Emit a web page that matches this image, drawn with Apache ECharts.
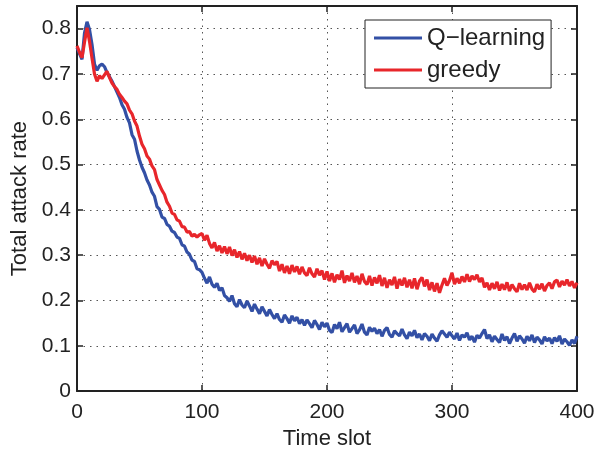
<!DOCTYPE html>
<html>
<head>
<meta charset="utf-8">
<script src="https://cdn.jsdelivr.net/npm/echarts@6/dist/echarts.min.js"></script>
<style>
  html, body { margin: 0; padding: 0; background: #fff; }
  #chart { width: 607px; height: 455px; }
</style>
</head>
<body>
<div id="chart"></div>
<script>
// sampled every 2 time slots, t = 0 .. 400
const timeStep = 2;
const xTicks = [0, 100, 200, 300, 400];
const seriesNames = ['Q\u2212learning', 'greedy'];

// Q-learning total attack rate
const qLearning = [
  0.758, 0.745, 0.732, 0.790, 0.815, 0.798, 0.765, 0.722, 0.708, 0.718,
  0.722, 0.716, 0.703, 0.694, 0.684, 0.672, 0.660, 0.648, 0.632, 0.622,
  0.604, 0.592, 0.566, 0.556, 0.530, 0.510, 0.494, 0.482, 0.466, 0.455,
  0.439, 0.430, 0.407, 0.401, 0.384, 0.381, 0.368, 0.364, 0.353, 0.350,
  0.340, 0.337, 0.323, 0.320, 0.307, 0.302, 0.289, 0.286, 0.270, 0.268,
  0.262, 0.249, 0.238, 0.252, 0.236, 0.229, 0.238, 0.222, 0.228, 0.211,
  0.206, 0.198, 0.211, 0.193, 0.186, 0.202, 0.190, 0.184, 0.199, 0.188,
  0.176, 0.192, 0.181, 0.171, 0.186, 0.176, 0.166, 0.180, 0.169, 0.160,
  0.171, 0.158, 0.152, 0.168, 0.160, 0.150, 0.166, 0.155, 0.163, 0.149,
  0.158, 0.145, 0.157, 0.149, 0.140, 0.156, 0.147, 0.136, 0.152, 0.142,
  0.150, 0.134, 0.129, 0.147, 0.138, 0.152, 0.131, 0.140, 0.149, 0.130,
  0.138, 0.146, 0.127, 0.135, 0.148, 0.130, 0.124, 0.141, 0.132, 0.139,
  0.127, 0.136, 0.121, 0.134, 0.140, 0.125, 0.119, 0.133, 0.127, 0.122,
  0.137, 0.124, 0.116, 0.130, 0.122, 0.134, 0.118, 0.126, 0.113, 0.127,
  0.121, 0.111, 0.126, 0.117, 0.110, 0.124, 0.133, 0.126, 0.119, 0.130,
  0.122, 0.115, 0.128, 0.112, 0.124, 0.119, 0.129, 0.113, 0.121, 0.108,
  0.123, 0.117, 0.127, 0.136, 0.116, 0.124, 0.109, 0.121, 0.114, 0.107,
  0.126, 0.112, 0.120, 0.105, 0.117, 0.127, 0.110, 0.122, 0.115, 0.106,
  0.121, 0.111, 0.124, 0.107, 0.119, 0.113, 0.104, 0.120, 0.111, 0.117,
  0.105, 0.118, 0.110, 0.122, 0.104, 0.115, 0.109, 0.101, 0.113, 0.105,
  0.121
];

// greedy total attack rate
const greedy = [
  0.762, 0.748, 0.736, 0.770, 0.802, 0.772, 0.735, 0.700, 0.684, 0.696,
  0.690, 0.698, 0.706, 0.692, 0.680, 0.672, 0.666, 0.655, 0.648, 0.640,
  0.634, 0.620, 0.612, 0.596, 0.585, 0.563, 0.545, 0.535, 0.519, 0.512,
  0.497, 0.489, 0.467, 0.455, 0.443, 0.434, 0.417, 0.408, 0.393, 0.390,
  0.378, 0.375, 0.363, 0.362, 0.351, 0.352, 0.342, 0.346, 0.340, 0.345,
  0.348, 0.333, 0.344, 0.326, 0.316, 0.328, 0.309, 0.321, 0.305, 0.319,
  0.303, 0.318, 0.299, 0.312, 0.295, 0.308, 0.291, 0.304, 0.288, 0.300,
  0.284, 0.298, 0.280, 0.294, 0.276, 0.292, 0.280, 0.271, 0.288, 0.279,
  0.286, 0.265, 0.280, 0.261, 0.276, 0.259, 0.278, 0.263, 0.275, 0.258,
  0.274, 0.261, 0.255, 0.272, 0.259, 0.252, 0.270, 0.256, 0.266, 0.246,
  0.264, 0.243, 0.260, 0.240, 0.257, 0.246, 0.266, 0.239, 0.255, 0.243,
  0.261, 0.240, 0.254, 0.236, 0.259, 0.242, 0.235, 0.254, 0.233, 0.251,
  0.238, 0.256, 0.232, 0.250, 0.228, 0.246, 0.234, 0.252, 0.226, 0.247,
  0.233, 0.250, 0.229, 0.246, 0.227, 0.249, 0.225, 0.243, 0.251, 0.231,
  0.246, 0.223, 0.240, 0.220, 0.238, 0.217, 0.234, 0.249, 0.233, 0.244,
  0.261, 0.236, 0.249, 0.238, 0.253, 0.241, 0.258, 0.242, 0.254, 0.246,
  0.257, 0.241, 0.250, 0.229, 0.239, 0.223, 0.238, 0.226, 0.241, 0.222,
  0.236, 0.224, 0.240, 0.221, 0.235, 0.226, 0.219, 0.238, 0.224, 0.235,
  0.223, 0.239, 0.225, 0.219, 0.236, 0.225, 0.237, 0.221, 0.233, 0.239,
  0.226, 0.241, 0.245, 0.230, 0.243, 0.234, 0.246, 0.232, 0.242, 0.228,
  0.239
];

const toPairs = arr => arr.map((v, i) => [i * timeStep, v]);

const fontFamily = '"Liberation Sans", Arial, Helvetica, sans-serif';
const textColor = '#222';

const chart = echarts.init(document.getElementById('chart'), null, { renderer: 'canvas' });

// common pieces for the boxed MATLAB-like axes
const boxLine = { show: true, onZero: false, lineStyle: { color: '#222', width: 2 } };
const innerTick = { show: true, inside: true, length: 6, lineStyle: { color: '#222', width: 1.5 } };
const dottedGrid = { show: true, lineStyle: { color: '#555', width: 1, type: [1.5, 5] } };

const option = {
  animation: false,
  backgroundColor: '#fff',
  grid: { left: 77, right: 30, top: 6, bottom: 56 },
  legend: {
    orient: 'vertical',
    left: 365,
    top: 20,
    data: seriesNames,
    icon: 'rect',
    backgroundColor: '#fff',
    borderColor: '#222',
    borderWidth: 1,
    padding: [6, 6, 6, 9],
    itemGap: 8,
    itemWidth: 48,
    itemHeight: 3,
    textStyle: { fontSize: 24, color: textColor, fontFamily: fontFamily }
  },
  xAxis: [{
    type: 'value',
    min: xTicks[0],
    max: xTicks[xTicks.length - 1],
    interval: 100,
    name: 'Time slot',
    nameLocation: 'middle',
    nameGap: 30,
    nameTextStyle: { fontSize: 22, color: textColor, fontFamily: fontFamily },
    axisLine: boxLine,
    axisTick: innerTick,
    axisLabel: { fontSize: 21, color: textColor, fontFamily: fontFamily, margin: 11 },
    splitLine: dottedGrid
  }, {
    type: 'value',
    position: 'top',
    min: xTicks[0],
    max: xTicks[xTicks.length - 1],
    interval: 100,
    axisLine: boxLine,
    axisTick: innerTick,
    axisLabel: { show: false },
    splitLine: { show: false }
  }],
  yAxis: [{
    type: 'value',
    min: 0,
    max: 0.85,
    interval: 0.1,
    name: 'Total attack rate',
    nameLocation: 'middle',
    nameGap: 41,
    nameTextStyle: { fontSize: 22, color: textColor, fontFamily: fontFamily },
    axisLine: boxLine,
    axisTick: innerTick,
    axisLabel: {
      fontSize: 21, color: textColor, fontFamily: fontFamily, margin: 6,
      formatter: v => (v > 0.81 ? '' : String(Math.round(v * 10) / 10))
    },
    splitLine: dottedGrid
  }, {
    type: 'value',
    position: 'right',
    min: 0,
    max: 0.85,
    interval: 0.1,
    axisLine: boxLine,
    axisTick: innerTick,
    axisLabel: { show: false },
    splitLine: { show: false }
  }],
  series: [{
    name: seriesNames[0],
    type: 'line',
    data: toPairs(qLearning),
    showSymbol: false,
    symbol: 'none',
    lineStyle: { color: '#3350a5', width: 3.2 },
    itemStyle: { color: '#3350a5' }
  }, {
    name: seriesNames[1],
    type: 'line',
    data: toPairs(greedy),
    showSymbol: false,
    symbol: 'none',
    lineStyle: { color: '#e8262b', width: 3.2 },
    itemStyle: { color: '#e8262b' }
  }]
};

chart.setOption(option);
</script>
</body>
</html>
